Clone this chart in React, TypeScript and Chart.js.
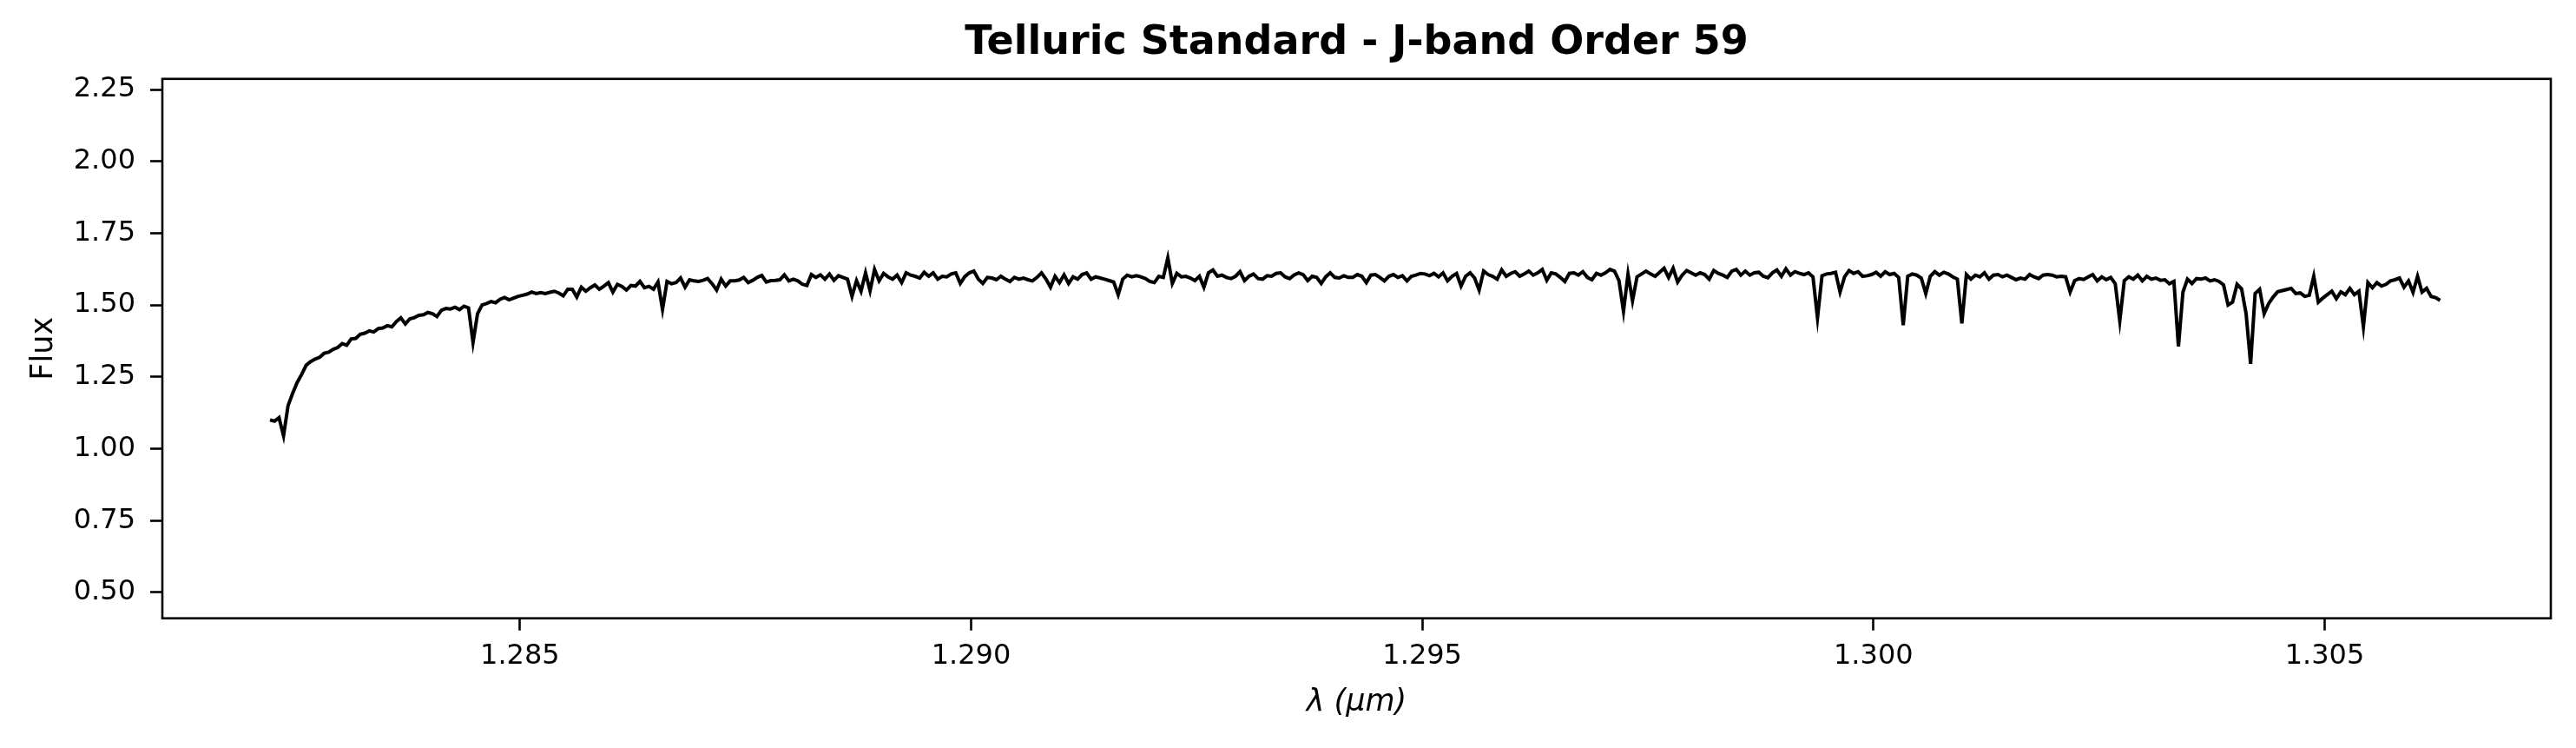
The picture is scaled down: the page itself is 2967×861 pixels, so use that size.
import React, { useEffect, useRef } from 'react';
import Chart from 'chart.js/auto';

// wavelength grid of the extracted order (micron)
const lambdaStart = 1.28223;
const lambdaStep = 0.00005;

// flux, one block per stretch of the order
const fluxBlue = [
  1.100, 1.096, 1.108, 1.045, 1.150, 1.192, 1.230, 1.258, 1.290, 1.303,
  1.312, 1.318, 1.332, 1.336, 1.346, 1.352, 1.366, 1.360, 1.382, 1.384,
  1.398, 1.402, 1.410, 1.406, 1.418, 1.420, 1.428, 1.424, 1.442, 1.455,
  1.434, 1.452, 1.456, 1.464, 1.466, 1.474, 1.470, 1.460, 1.482, 1.488,
  1.486, 1.492, 1.484, 1.496, 1.490, 1.370, 1.470, 1.500, 1.505, 1.512,
  1.508, 1.520, 1.526, 1.518, 1.524, 1.530, 1.534, 1.538, 1.545, 1.540,
  1.543, 1.540, 1.544, 1.548, 1.542, 1.532, 1.555, 1.555, 1.528, 1.562,
  1.548, 1.560, 1.570, 1.555, 1.566, 1.578, 1.545, 1.572, 1.565,
];

const fluxBlueMid = [
  1.552, 1.568, 1.566, 1.582, 1.560, 1.565, 1.555, 1.580, 1.485, 1.582,
  1.574, 1.578, 1.594, 1.562, 1.588, 1.584, 1.582, 1.586, 1.592, 1.574,
  1.552, 1.590, 1.566, 1.584, 1.584, 1.587, 1.596, 1.578, 1.586, 1.596,
  1.603, 1.580, 1.585, 1.586, 1.588, 1.605, 1.584, 1.590, 1.584, 1.572,
  1.568, 1.606, 1.596, 1.605, 1.590, 1.608, 1.586, 1.602, 1.596, 1.590,
  1.530, 1.585, 1.548, 1.612, 1.550, 1.624, 1.584, 1.610, 1.598, 1.590,
  1.604, 1.578, 1.612, 1.604, 1.600, 1.594, 1.614, 1.600, 1.612, 1.590,
  1.600, 1.598, 1.608, 1.612, 1.575, 1.599, 1.612, 1.618, 1.590, 1.575,
  1.596,
];

const fluxCentre = [
  1.594, 1.588, 1.600, 1.590, 1.582, 1.596, 1.590, 1.594, 1.588, 1.584,
  1.596, 1.612, 1.590, 1.562, 1.600, 1.578, 1.605, 1.575, 1.598, 1.590,
  1.606, 1.612, 1.590, 1.598, 1.594, 1.590, 1.585, 1.580, 1.536, 1.590,
  1.604, 1.598, 1.602, 1.598, 1.592, 1.582, 1.578, 1.600, 1.596, 1.664,
  1.575, 1.610, 1.598, 1.600, 1.594, 1.585, 1.600, 1.562, 1.612, 1.622,
  1.600, 1.604, 1.596, 1.592, 1.600, 1.616, 1.585, 1.600, 1.608, 1.592,
  1.590, 1.602, 1.600, 1.610, 1.612, 1.598, 1.592, 1.605, 1.612, 1.606,
  1.585, 1.600, 1.596, 1.575, 1.598, 1.612, 1.596, 1.594, 1.602, 1.596,
  1.596,
];

const fluxRedMid = [
  1.606, 1.600, 1.578, 1.604, 1.606, 1.596, 1.584, 1.600, 1.606, 1.596,
  1.602, 1.584, 1.600, 1.604, 1.610, 1.608, 1.602, 1.610, 1.598, 1.612,
  1.584, 1.600, 1.610, 1.566, 1.600, 1.612, 1.594, 1.552, 1.618, 1.606,
  1.600, 1.590, 1.622, 1.600, 1.610, 1.616, 1.600, 1.608, 1.618, 1.604,
  1.612, 1.624, 1.586, 1.612, 1.608, 1.596, 1.582, 1.610, 1.612, 1.604,
  1.616, 1.596, 1.588, 1.610, 1.604, 1.612, 1.624, 1.618, 1.585, 1.478,
  1.608, 1.515, 1.598, 1.608, 1.618, 1.608, 1.600, 1.614, 1.628, 1.596,
  1.628, 1.580, 1.604, 1.620, 1.612, 1.604, 1.612, 1.606, 1.590, 1.620,
  1.610,
];

const fluxRed = [
  1.604, 1.596, 1.618, 1.624, 1.604, 1.618, 1.604, 1.612, 1.614, 1.600,
  1.595, 1.612, 1.622, 1.600, 1.626, 1.604, 1.616, 1.610, 1.606, 1.612,
  1.598, 1.455, 1.602, 1.608, 1.610, 1.614, 1.545, 1.598, 1.620, 1.610,
  1.616, 1.600, 1.602, 1.606, 1.614, 1.600, 1.616, 1.606, 1.610, 1.596,
  1.430, 1.600, 1.608, 1.604, 1.594, 1.540, 1.600, 1.616, 1.604, 1.614,
  1.608, 1.598, 1.590, 1.436, 1.606, 1.590, 1.604, 1.598, 1.612, 1.590,
  1.604, 1.606, 1.598, 1.604, 1.596, 1.588, 1.594, 1.590, 1.606, 1.598,
  1.592, 1.604, 1.606, 1.604, 1.598, 1.600, 1.598, 1.545, 1.585, 1.592,
];

const fluxRedEdge = [
  1.589, 1.598, 1.606, 1.584, 1.598, 1.588, 1.596, 1.574, 1.445, 1.585,
  1.598, 1.590, 1.604, 1.584, 1.600, 1.590, 1.594, 1.586, 1.588, 1.574,
  1.582, 1.356, 1.545, 1.590, 1.575, 1.592, 1.590, 1.594, 1.584, 1.588,
  1.582, 1.570, 1.500, 1.510, 1.572, 1.556, 1.470, 1.295, 1.540, 1.555,
  1.470, 1.505, 1.528, 1.546, 1.550, 1.554, 1.558, 1.540, 1.542, 1.530,
  1.534, 1.600, 1.510, 1.524, 1.536, 1.548, 1.522, 1.546, 1.536, 1.558,
  1.536, 1.548, 1.425, 1.578, 1.560, 1.578, 1.566, 1.572, 1.584, 1.588,
  1.594, 1.562, 1.584, 1.544, 1.600, 1.545, 1.558, 1.530, 1.526, 1.516,
];

// first pixel index of each block on the wavelength grid
const blocks: [number, number[]][] = [
  [0, fluxBlue],
  [79, fluxBlueMid],
  [160, fluxCentre],
  [241, fluxRedMid],
  [322, fluxRed],
  [402, fluxRedEdge],
];

const xTicks = [1.285, 1.29, 1.295, 1.3, 1.305];
const yTicks = [0.5, 0.75, 1.0, 1.25, 1.5, 1.75, 2.0, 2.25];

const FONT = 'DejaVu Sans';

// matplotlib-like box around the axes
const frame = {
  id: 'frame',
  afterDraw(chart: any) {
    const { ctx, chartArea } = chart;
    ctx.save();
    ctx.strokeStyle = '#000';
    ctx.lineWidth = 2.6;
    ctx.strokeRect(chartArea.left, chartArea.top, chartArea.right - chartArea.left, chartArea.bottom - chartArea.top);
    ctx.restore();
  },
};

const App = () => {
  const canvasRef = useRef<HTMLCanvasElement | null>(null);

  useEffect(() => {
    document.body.style.margin = '0';
    if (!canvasRef.current) return;

    const points: { x: number; y: number }[] = [];
    blocks.forEach(([start, flux]) => {
      flux.forEach((f, k) => points.push({ x: lambdaStart + (start + k) * lambdaStep, y: f }));
    });

    const chart = new Chart(canvasRef.current, {
      type: 'line',
      data: {
        datasets: [
          {
            data: points,
            borderColor: '#000',
            borderWidth: 4,
            pointRadius: 0,
            tension: 0,
            fill: false,
          },
        ],
      },
      options: {
        responsive: false,
        animation: false,
        events: [],
        layout: { padding: { top: 0, left: 0, right: 29, bottom: 0 } },
        plugins: {
          legend: { display: false },
          tooltip: { enabled: false },
          title: {
            display: true,
            fullSize: false, // centre over the axes, as matplotlib does
            text: 'Telluric Standard - J-band Order 59',
            color: '#000',
            font: { family: FONT, size: 46, weight: 'bold', lineHeight: 1.2 },
            padding: { top: 22, bottom: 13.6 },
          },
        },
        scales: {
          x: {
            type: 'linear',
            min: 1.281037,
            max: 1.307507,
            afterFit: (scale: any) => {
              scale.height = 149.3;
            },
            afterBuildTicks: (scale: any) => {
              scale.ticks = xTicks.map((v) => ({ value: v }));
            },
            border: { display: false },
            grid: {
              drawOnChartArea: false,
              drawTicks: true,
              tickLength: 14,
              tickWidth: 2.6,
              tickColor: '#000',
            },
            ticks: {
              color: '#000',
              font: { family: FONT, size: 32 },
              padding: 11,
              maxRotation: 0,
              autoSkip: false,
              callback: (v: any) => Number(v).toFixed(3),
            },
            title: {
              display: true,
              text: 'λ (μm)',
              color: '#000',
              font: { family: FONT, size: 35, style: 'italic', lineHeight: 1.2 },
              padding: { top: 0, bottom: 31 },
            },
          },
          y: {
            type: 'linear',
            min: 0.4099,
            max: 2.2869,
            afterFit: (scale: any) => {
              scale.width = 187;
            },
            afterBuildTicks: (scale: any) => {
              scale.ticks = yTicks.map((v) => ({ value: v }));
            },
            border: { display: false },
            grid: {
              drawOnChartArea: false,
              drawTicks: true,
              tickLength: 14,
              tickWidth: 2.6,
              tickColor: '#000',
            },
            ticks: {
              color: '#000',
              font: { family: FONT, size: 32 },
              padding: 17,
              autoSkip: false,
              callback: (v: any) => Number(v).toFixed(2),
            },
            title: {
              display: true,
              text: 'Flux',
              color: '#000',
              font: { family: FONT, size: 35, lineHeight: 1.2 },
              padding: { top: 30.4, bottom: 0 },
            },
          },
        },
      },
      plugins: [frame],
    });

    return () => {
      chart.destroy();
    };
  }, []);

  return (
    <div style={{ width: 2967, height: 861 }}>
      <canvas ref={canvasRef} width={2967} height={861} style={{ display: 'block' }} />
    </div>
  );
};

export default App;
